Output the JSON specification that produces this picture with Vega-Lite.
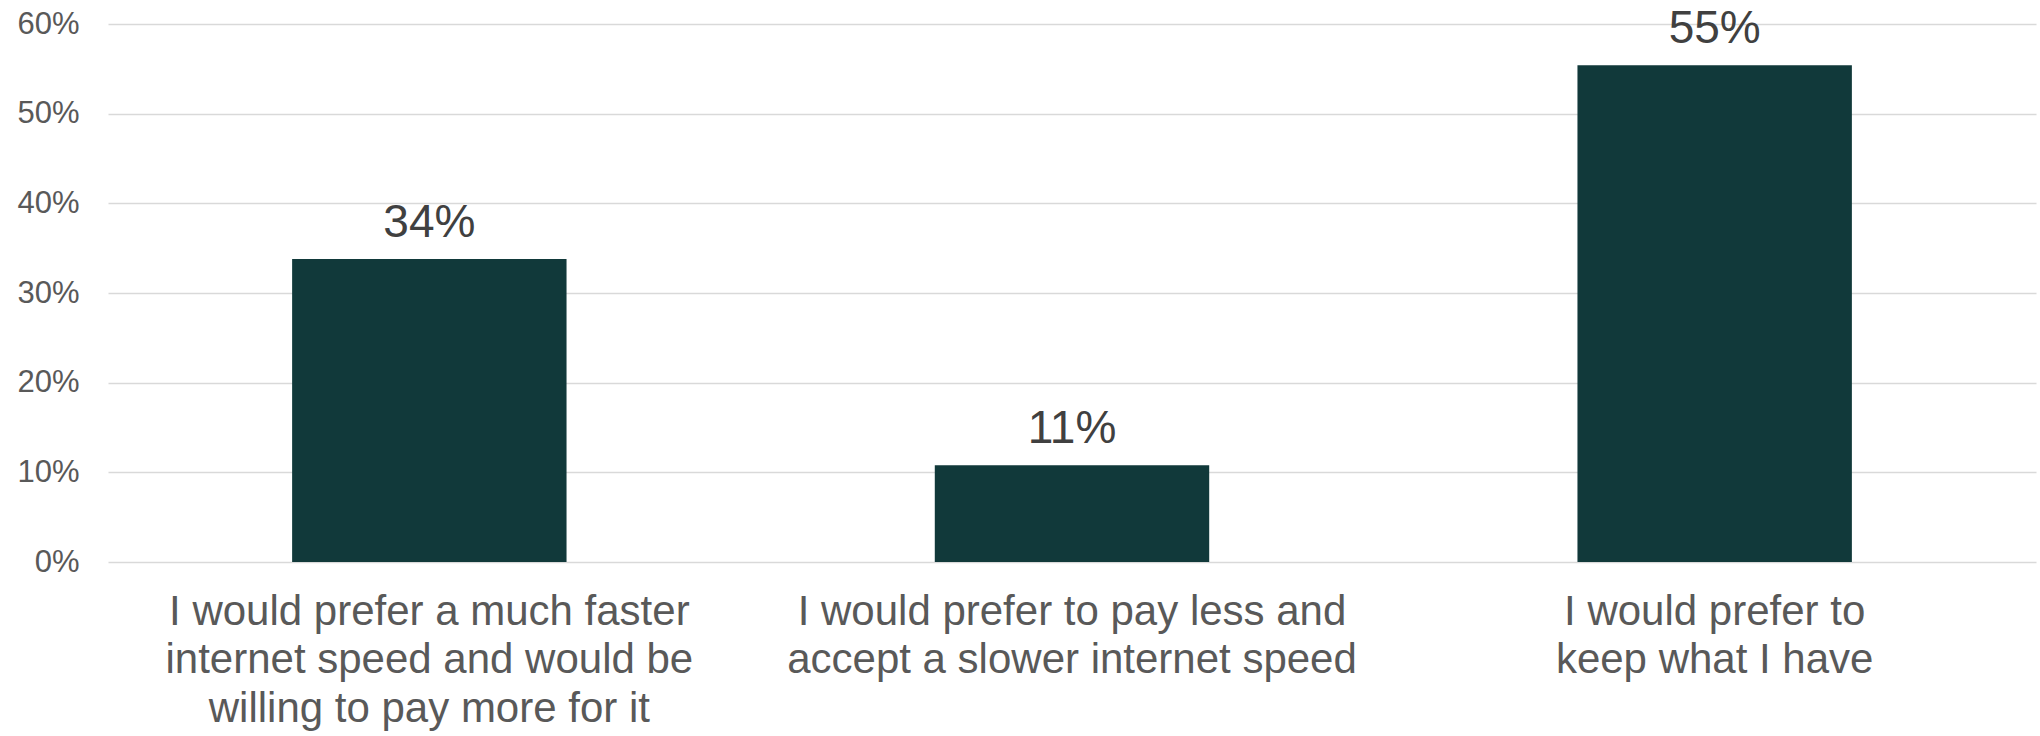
{
  "$schema": "https://vega.github.io/schema/vega-lite/v6.json",
  "autosize": "none",
  "width": 1928,
  "height": 538,
  "padding": {"left": 108, "top": 24, "right": 4, "bottom": 174},
  "background": "white",
  "config": {
    "view": {"stroke": null},
    "font": "Liberation Sans"
  },
  "data": {
    "values": [
      {"answer": "I would prefer a much faster\ninternet speed and would be\nwilling to pay more for it", "share": 0.338, "order": 1},
      {"answer": "I would prefer to pay less and\naccept a slower internet speed", "share": 0.108, "order": 2},
      {"answer": "I would prefer to\nkeep what I have", "share": 0.554, "order": 3}
    ]
  },
  "encoding": {
    "x": {
      "field": "answer",
      "type": "nominal",
      "sort": {"field": "order"},
      "scale": {"paddingInner": 0.573, "paddingOuter": 0.2865},
      "axis": {
        "title": null,
        "labelAngle": 0,
        "labelExpr": "split(datum.label, '\\n')",
        "labelFontSize": 42,
        "labelLineHeight": 48.6,
        "labelColor": "#595959",
        "labelPadding": 29,
        "labelBaseline": "top",
        "labelLimit": 0,
        "domain": false,
        "ticks": false
      }
    },
    "y": {
      "field": "share",
      "type": "quantitative",
      "scale": {"domain": [0, 0.6]},
      "axis": {
        "title": null,
        "format": ".0%",
        "values": [0, 0.1, 0.2, 0.3, 0.4, 0.5, 0.6],
        "labelFontSize": 31,
        "labelColor": "#595959",
        "labelPadding": 29,
        "domain": false,
        "ticks": false,
        "gridColor": "#d9d9d9",
        "gridWidth": 1.6
      }
    }
  },
  "layer": [
    {"mark": {"type": "bar", "color": "#11393a"}},
    {
      "mark": {"type": "text", "fontSize": 46, "color": "#404040", "dy": -22, "baseline": "alphabetic"},
      "encoding": {"text": {"field": "share", "type": "quantitative", "format": ".0%"}}
    }
  ]
}
